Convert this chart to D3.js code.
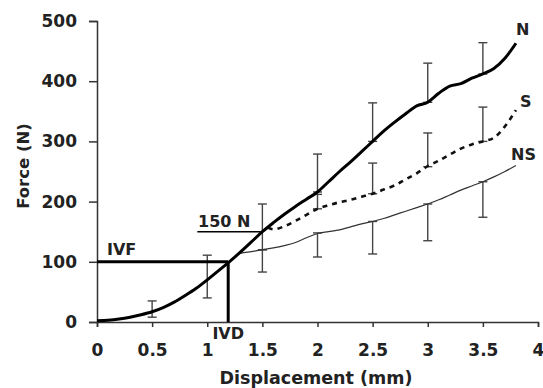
<!DOCTYPE html>
<meta charset="utf-8">
<style>
    body { margin: 0; background: #fff; }
    text { font-family: "DejaVu Sans", Arial, sans-serif; font-weight: bold; fill: #222; }
    .axis path, .axis line { stroke: #333; stroke-width: 1.5px; }
    .axis text { font-size: 17px; font-family: "DejaVu Sans", Arial, sans-serif; font-weight: bold; fill: #222; }
    .err { stroke: #444; stroke-width: 1.4px; fill: none; }
</style>
<svg width="543" height="388"></svg>
<script src="https://d3js.org/d3.v7.min.js"></script>
<script>

    // curves (displacement mm, force N)
    var nX  = [0, 0.1, 0.2, 0.3, 0.4, 0.5, 0.6, 0.7, 0.8, 0.9, 1.0, 1.1, 1.2, 1.3, 1.4, 1.5, 1.6, 1.7, 1.8, 1.9, 2.0, 2.1, 2.2, 2.3, 2.4, 2.5, 2.6, 2.7, 2.8, 2.9, 3.0, 3.1, 3.2, 3.3, 3.4, 3.5, 3.6, 3.7, 3.8];
    var nY  = [2, 3, 5, 8, 12, 17, 24, 33, 44, 56, 70, 85, 100, 116, 133, 150, 165, 179, 192, 204, 216, 233, 250, 266, 283, 300, 317, 332, 346, 359, 365, 380, 392, 396, 405, 412, 421, 438, 463];

    var sX  = [1.55, 1.6, 1.7, 1.8, 1.9, 2.0, 2.1, 2.2, 2.3, 2.4, 2.5, 2.6, 2.7, 2.8, 2.9, 3.0, 3.1, 3.2, 3.3, 3.4, 3.5, 3.6, 3.7, 3.8];
    var sY  = [157, 154, 159, 168, 178, 188, 194, 199, 203, 208, 213, 220, 227, 237, 247, 259, 268, 278, 288, 295, 300, 306, 325, 352];

    var nsX = [1.25, 1.3, 1.4, 1.5, 1.6, 1.7, 1.8, 1.9, 2.0, 2.1, 2.2, 2.3, 2.4, 2.5, 2.6, 2.7, 2.8, 2.9, 3.0, 3.1, 3.2, 3.3, 3.4, 3.5, 3.6, 3.7, 3.8];
    var nsY = [108, 114, 117, 120, 123, 127, 132, 140, 147, 150, 153, 158, 163, 167, 172, 178, 184, 190, 196, 203, 211, 219, 226, 233, 241, 250, 260];

    // error bars: x, low end, high end
    var nErrX  = [0.5, 1.0, 1.5, 2.0, 2.5, 3.0, 3.5];
    var nErrLo = [8, 40, 120, 216, 300, 365, 412];
    var nErrHi = [35, 111, 196, 279, 364, 430, 464];

    var sErrX  = [2.0, 2.5, 3.0, 3.5];
    var sErrLo = [188, 213, 258, 300];
    var sErrHi = [212, 264, 314, 357];

    var nsErrX  = [1.5, 2.0, 2.5, 3.0, 3.5];
    var nsErrLo = [83, 108, 113, 135, 174];
    var nsErrHi = [120, 148, 167, 196, 233];

    var xTicks = [0, 0.5, 1, 1.5, 2, 2.5, 3, 3.5, 4];
    var yTicks = [0, 100, 200, 300, 400, 500];

    var ivf = 100, ivd = 1.19;

    var svg = d3.select("svg");

    var x = d3.scaleLinear().domain([0, 4]).range([97, 538]);
    var y = d3.scaleLinear().domain([0, 500]).range([322, 21]);

    svg.append("g")
            .attr("class", "axis")
            .attr("transform", "translate(0," + y(0) + ")")
            .call(d3.axisBottom(x).tickValues(xTicks).tickSize(5).tickSizeOuter(5).tickPadding(17)
                    .tickFormat(function(d) { return d; }));

    svg.append("g")
            .attr("class", "axis")
            .attr("transform", "translate(" + x(0) + ",0)")
            .call(d3.axisLeft(y).tickValues(yTicks).tickSize(8).tickSizeOuter(8).tickPadding(12));

    svg.append("text")
            .attr("x", 316).attr("y", 384)
            .attr("text-anchor", "middle")
            .style("font-size", "17.5px")
            .text("Displacement (mm)");

    svg.append("text")
            .attr("transform", "translate(29,166) rotate(-90)")
            .attr("text-anchor", "middle")
            .style("font-size", "16.5px")
            .text("Force (N)");

    var line = d3.line()
            .curve(d3.curveMonotoneX)
            .x(function(d) { return x(d[0]); })
            .y(function(d) { return y(d[1]); });

    function pairs(xs, ys) { return xs.map(function(v, i) { return [v, ys[i]]; }); }

    // error bars under the curves
    function errBars(xs, lo, hi) {
        var g = svg.append("g").attr("class", "err");
        xs.forEach(function(v, i) {
            var cx = x(v);
            g.append("line").attr("x1", cx).attr("x2", cx).attr("y1", y(lo[i])).attr("y2", y(hi[i]));
            g.append("line").attr("x1", cx - 4.5).attr("x2", cx + 4.5).attr("y1", y(lo[i])).attr("y2", y(lo[i]));
            g.append("line").attr("x1", cx - 4.5).attr("x2", cx + 4.5).attr("y1", y(hi[i])).attr("y2", y(hi[i]));
        });
    }
    errBars(nErrX, nErrLo, nErrHi);
    errBars(sErrX, sErrLo, sErrHi);
    errBars(nsErrX, nsErrLo, nsErrHi);

    svg.append("path")
            .datum(pairs(nsX, nsY))
            .attr("d", line)
            .attr("fill", "none").attr("stroke", "#333").attr("stroke-width", 1.2);

    svg.append("path")
            .datum(pairs(sX, sY))
            .attr("d", line)
            .attr("fill", "none").attr("stroke", "#111").attr("stroke-width", 2.6)
            .attr("stroke-dasharray", "5,5");

    svg.append("path")
            .datum(pairs(nX, nY))
            .attr("d", line)
            .attr("fill", "none").attr("stroke", "#000").attr("stroke-width", 3);

    // IVF / IVD guides
    svg.append("line")
            .attr("x1", x(0)).attr("x2", x(ivd)).attr("y1", y(ivf)).attr("y2", y(ivf))
            .attr("stroke", "#000").attr("stroke-width", 3);
    svg.append("line")
            .attr("x1", x(ivd)).attr("x2", x(ivd)).attr("y1", y(0)).attr("y2", y(ivf))
            .attr("stroke", "#000").attr("stroke-width", 3);
    svg.append("line")
            .attr("x1", x(0.91)).attr("x2", x(1.5)).attr("y1", y(150)).attr("y2", y(150))
            .attr("stroke", "#000").attr("stroke-width", 1.5);

    svg.append("text").attr("x", 107).attr("y", 255).style("font-size", "16px").text("IVF");
    svg.append("text").attr("x", x(ivd)).attr("y", 339).attr("text-anchor", "middle").style("font-size", "16px").text("IVD");
    svg.append("text").attr("x", 198).attr("y", 227).style("font-size", "16px").text("150 N");

    svg.append("text").attr("x", 516).attr("y", 35).style("font-size", "16px").text("N");
    svg.append("text").attr("x", 520).attr("y", 107).style("font-size", "16px").text("S");
    svg.append("text").attr("x", 511).attr("y", 160).style("font-size", "16px").text("NS");

</script>
